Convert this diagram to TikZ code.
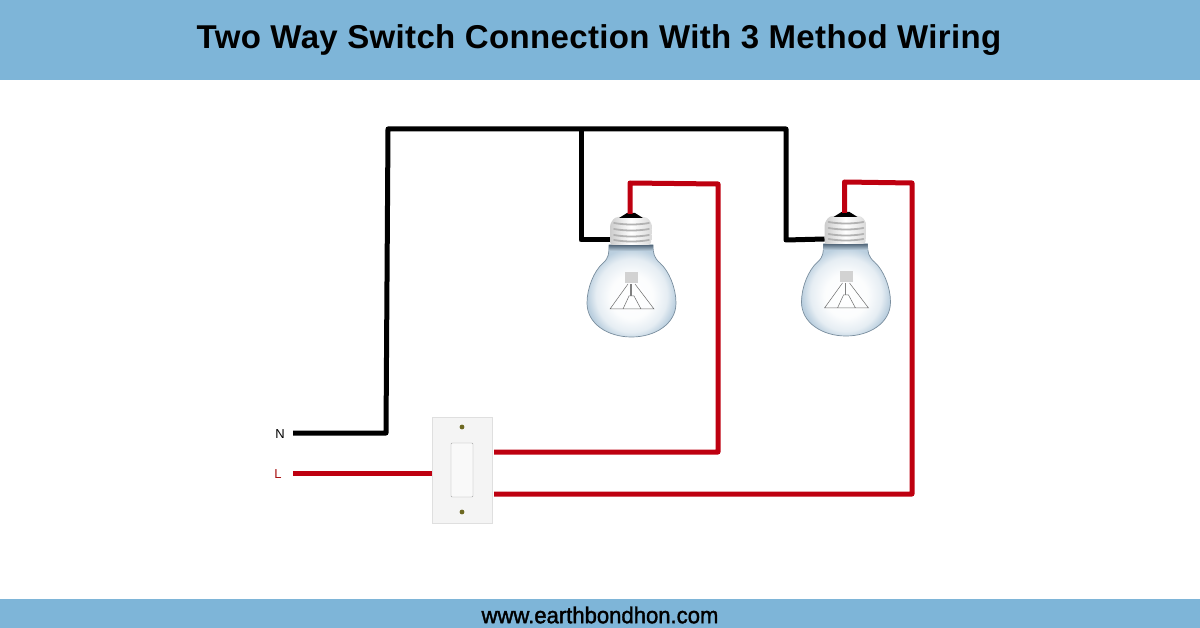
\documentclass[tikz,border=0pt]{standalone}
\usepackage{fontspec}
\setmainfont{Liberation Sans}
\newfontfamily\narrowfont[FakeStretch=0.96,FakeBold=1.6]{Liberation Sans}
\newfontfamily\titlefont[LetterSpace=1.05]{Liberation Sans}
\definecolor{bandblue}{HTML}{7EB5D8}
\definecolor{wirered}{HTML}{BE0010}
\definecolor{labelred}{HTML}{A81010}
\definecolor{glassblue}{HTML}{A4BFD4}
\definecolor{glassedge}{HTML}{7A8E9E}
\definecolor{neckdark}{HTML}{55697C}
\pgfdeclareradialshading{glassshade}{\pgfpoint{0bp}{-4bp}}{
  color(0bp)=(white);
  color(12bp)=(white!96!glassblue);
  color(20bp)=(white!72!glassblue);
  color(25bp)=(white!25!glassblue);
  color(50bp)=(glassblue)}
\tikzset{
  band/.style={fill=bandblue,draw=none},
  blackwire/.style={draw=black,line width=5pt,line join=round},
  redwire/.style={draw=wirered,line width=5pt,line join=round},
  pics/bulb/.style={code={
    \coordinate (-cap) at (0,2);
    \coordinate (-side) at (-20,28);
    \shade[shading=glassshade,draw=glassedge,line width=.7pt]
      (-21,33) .. controls (-21,41) and (-21,46) .. (-27,51)
      .. controls (-36,59) and (-43,76) .. (-43,91)
      .. controls (-43,112) and (-22,125) .. (1.5,125)
      .. controls (25,125) and (46,112) .. (46,91)
      .. controls (46,76) and (39,59) .. (30,51)
      .. controls (24,46) and (23,41) .. (23,33) -- cycle;
    \shade[top color=neckdark,bottom color=glassblue!70,draw=none]
      (-21,33) -- (23,33) .. controls (23,35) and (23,37) .. (23.5,39)
      -- (-21.5,39) .. controls (-21,37) and (-21,35) .. (-21,33) -- cycle;
    \shade[left color=gray!40,right color=gray!30,middle color=white,rounded corners=3pt]
      (-15,5) -- (17,5) -- (22,12) -- (21,33) -- (-20,33) -- (-20,12) -- cycle;
    \foreach \yy in {11,17,23,28}
      \draw[gray!60,line width=1.8pt,line cap=round] (-16,\yy) .. controls (-5,\yy+2) and (8,\yy+2) .. (19,\yy);
    \fill[black] (-11,6) -- (-3,1) -- (5,1) -- (13,6) -- cycle;
    \fill[gray!35] (-5,60) rectangle (8,71);
    \draw[gray!85!black,line width=.5pt]
      (-2,72) -- (-20,97) -- (24,97) -- (5,72)
      (-7,97) -- (-1,84) -- (4,84) -- (11,97);
    \draw[gray,line width=1.6pt] (1,72) -- (1,84);
  }},
}
\begin{document}
\begin{tikzpicture}[x=1pt,y=-1pt]
  \useasboundingbox (0,0) rectangle (1200,628);
  \fill[band] (0,0) rectangle (1200,80);
  \fill[band] (0,599) rectangle (1200,628);
  \node (title) at (599,40) {\fontsize{33}{36}\selectfont\titlefont\bfseries Two Way Switch Connection With 3 Method Wiring};
  \node (site) at (600,615) {\fontsize{23}{26}\selectfont\narrowfont www.earthbondhon.com};
  \node (nlabel) at (280,434) {\fontsize{13}{15}\selectfont N};
  \node[text=labelred] (llabel) at (278,474) {\fontsize{13}{15}\selectfont L};
  % bulbs
  \pic (bulba) at (630,212) {bulb};
  \pic (bulbb) at (844.5,211) {bulb};
  % switch
  \node[draw=gray!25,fill=gray!9,minimum width=60pt,minimum height=106pt,inner sep=0pt] (plate) at (462,470) {};
  \node[draw=gray!70,fill=gray!5,rounded corners=1pt,minimum width=22pt,minimum height=54pt,inner sep=0pt] (rocker) at (462,470) {};
  \fill[olive!70!black] (462,427) circle (2.4pt) (462,512) circle (2.4pt);
  % wire ends and bends
  \coordinate (nstart) at (293,433);
  \coordinate (nbend) at (386,433);
  \coordinate (topleft) at (388,129);
  \coordinate (topmid) at (581,129);
  \coordinate (topright) at (786,129);
  \coordinate (dropa) at (581,240);
  \coordinate (dropb) at (786,240);
  \coordinate (lstart) at (293,473);
  \coordinate (lend) at (432,473);
  \coordinate (outa) at (494,452);
  \coordinate (outb) at (494,494);
  \coordinate (reda) at (630,183);
  \coordinate (redb) at (718,184);
  \coordinate (redc) at (718,452);
  \coordinate (redd) at (844.5,182);
  \coordinate (rede) at (912,183);
  \coordinate (redf) at (912,494);
  \begin{scope}[blackwire]
    \draw (nstart) -- (nbend) -- (topleft) -- (topright) -- (dropb) -- (bulbb-side);
    \draw (topmid) -- (dropa) -- (bulba-side);
  \end{scope}
  \begin{scope}[redwire]
    \draw (lstart) -- (lend);
    \draw (bulba-cap) -- (reda) -- (redb) -- (redc) -- (outa);
    \draw (bulbb-cap) -- (redd) -- (rede) -- (redf) -- (outb);
  \end{scope}
\end{tikzpicture}
\end{document}
